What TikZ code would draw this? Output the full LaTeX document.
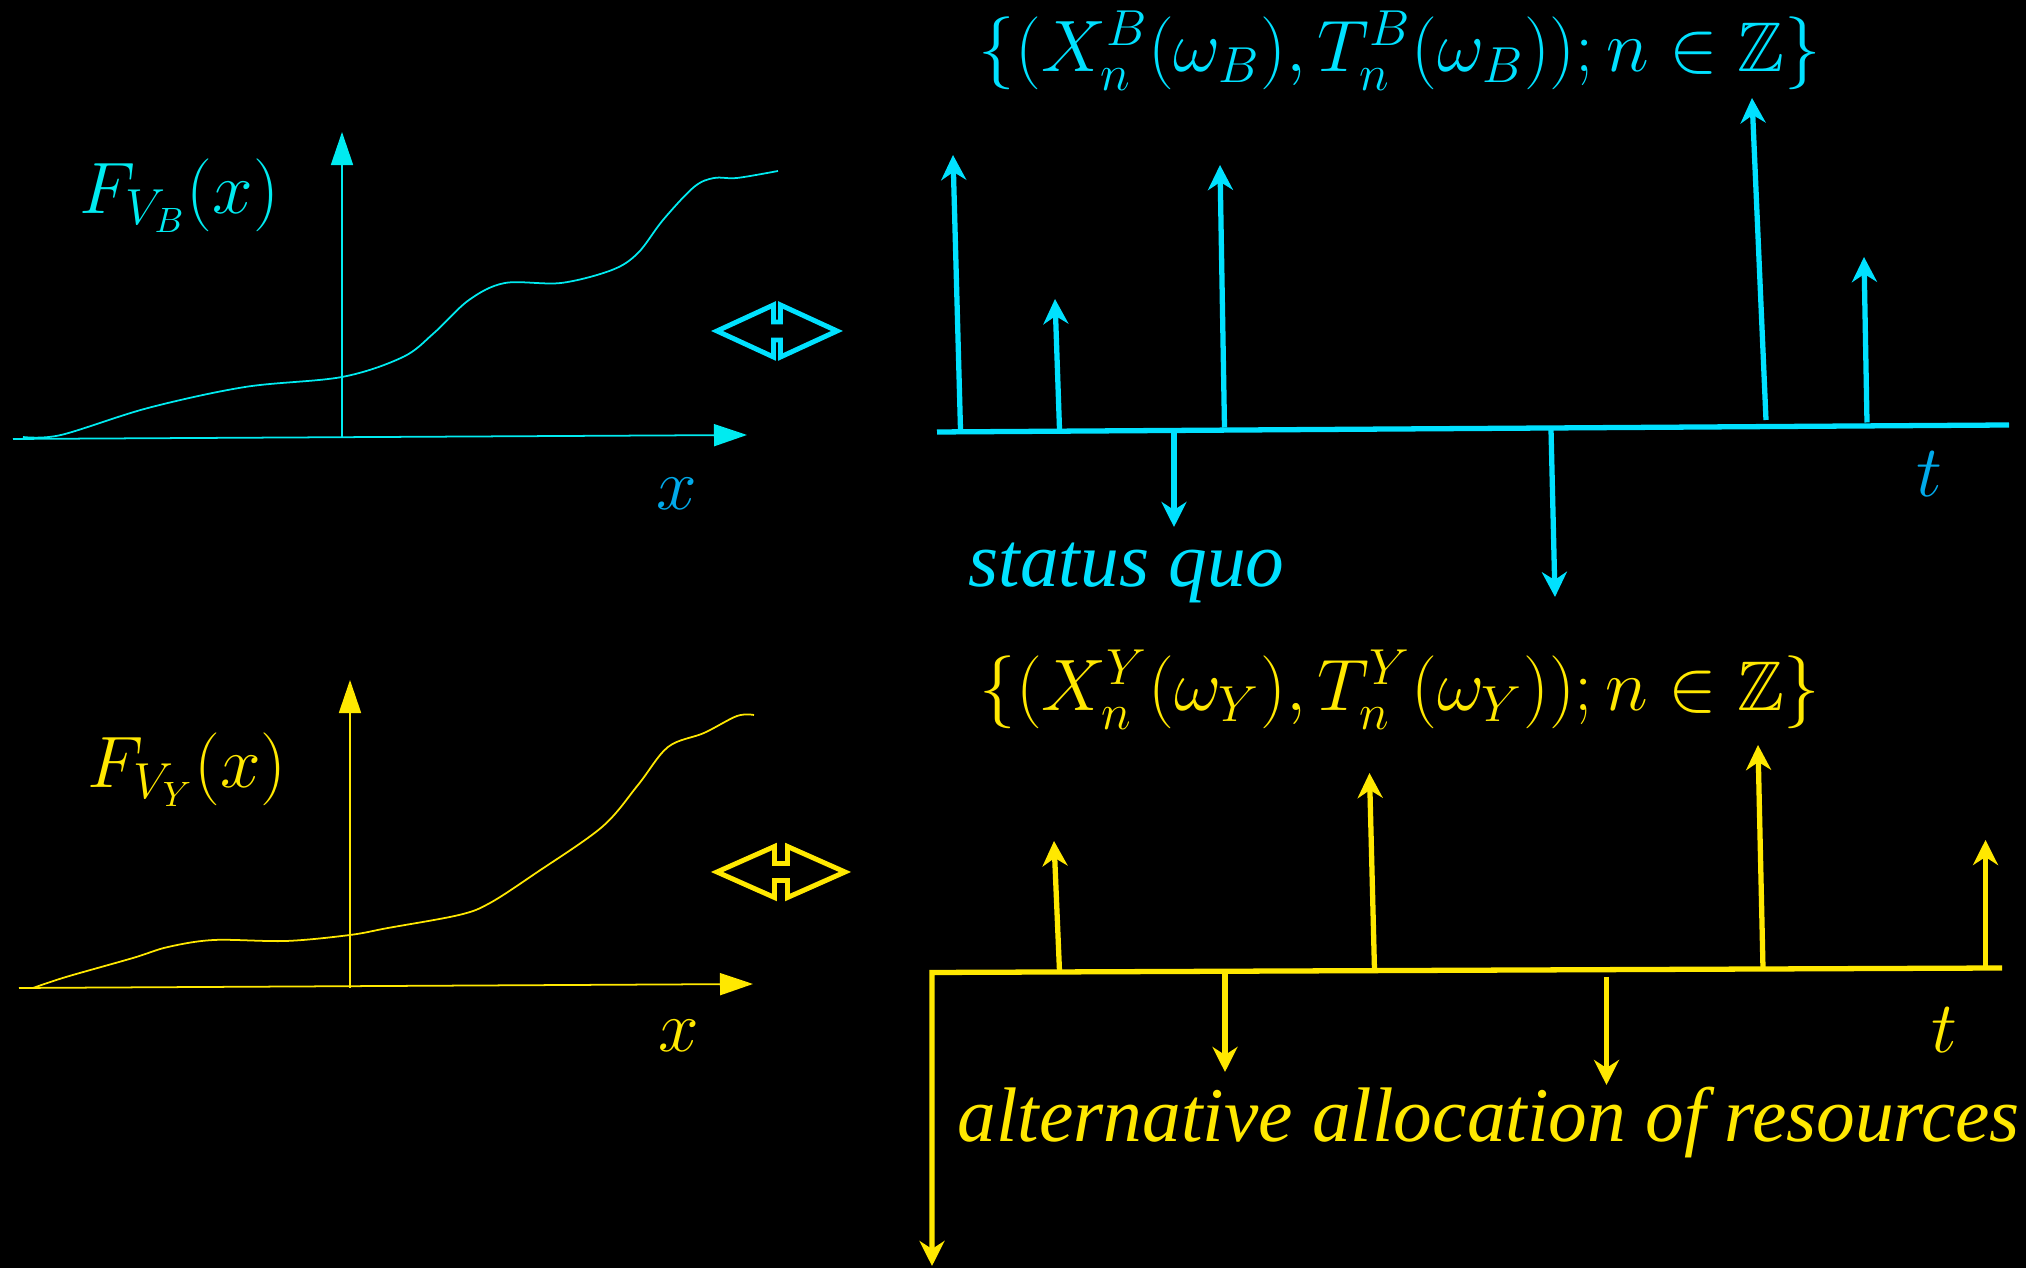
\documentclass[tikz,border=0pt]{standalone}
\usepackage{amsmath,amssymb}
\usepackage{fontspec}
\usepackage{xcolor}
\usepackage{tikz}
\usetikzlibrary{arrows.meta}
\newfontfamily\wordfont{Liberation Serif}[ItalicFont={Liberation Serif Italic}]
\definecolor{axiscyan}{RGB}{0,235,240}
\definecolor{runcyan}{RGB}{0,225,255}
\definecolor{labelblue}{RGB}{0,170,235}
\definecolor{runyellow}{RGB}{255,232,0}
\tikzset{
  cdfaxis/.style={-{Triangle[length=0.33cm,width=0.22cm]},line width=0.5pt},
  cdfcurve/.style={line width=0.5pt},
  timeline/.style={line width=1.5pt},
  pointarrow/.style={-{Stealth[length=0.25cm,width=0.25cm,inset=0.08cm]},line width=1.5pt},
  swapbox/.style={line width=1.4pt,line join=miter},
  mathlabel/.style={font=\fontsize{20}{24}\selectfont,inner sep=0pt},
  wordlabel/.style={font=\wordfont\itshape\fontsize{22}{26}\selectfont,inner sep=0pt}
}

\begin{document}
\begin{tikzpicture}[x=0.01cm,y=-0.01cm]
  \fill[black] (0,0) rectangle (2026,1268);
  \useasboundingbox (0,0) rectangle (2026,1268);

  % distribution of V_B
  \coordinate (xB0) at (13,439);
  \coordinate (xB1) at (747,435);
  \coordinate (yB0) at (342,438);
  \coordinate (yB1) at (342,132);
  \draw[cdfaxis,axiscyan] (xB0) -- (xB1);
  \draw[cdfaxis,axiscyan] (yB0) -- (yB1);
  \draw[cdfcurve,axiscyan] plot[smooth,tension=0.55] coordinates {(23,437) (61,435) (148,408) (245,387) (342,377)
    (403,357) (434,333) (469,300) (505,283) (561,283) (612,270) (638,253) (663,220) (694,187) (714,178) (737,178) (778,171)};
  \node[mathlabel,axiscyan,anchor=base west] (FB) at (79,214) {$F_{V_B}(x)$};
  \node[mathlabel,labelblue,anchor=base] (xB) at (677,510) {$x$};

  % distribution of V_Y
  \coordinate (xY0) at (19,988);
  \coordinate (xY1) at (753,984);
  \coordinate (yY0) at (350,988);
  \coordinate (yY1) at (350,680);
  \draw[cdfaxis,runyellow] (xY0) -- (xY1);
  \draw[cdfaxis,runyellow] (yY0) -- (yY1);
  \draw[cdfcurve,runyellow] plot[smooth,tension=0.55] coordinates {(33,988) (66,977) (133,958) (168,947) (214,940) (286,941)
    (350,935) (388,928) (459,915) (490,903) (536,873) (602,827) (638,785) (668,747) (704,733) (737,716) (754,715)};
  \node[mathlabel,runyellow,anchor=base west] (FY) at (87,788) {$F_{V_Y}(x)$};
  \node[mathlabel,runyellow,anchor=base] (xY) at (679,1052) {$x$};

  % equivalence signs
  \draw[swapbox,runcyan,shift={(777,331)}] (-60,0) -- (-3.5,-26) -- (-3.5,-9) -- (3.5,-9) -- (3.5,-26) -- (60,0)
    -- (3.5,26) -- (3.5,9) -- (-3.5,9) -- (-3.5,26) -- cycle;
  \draw[swapbox,runyellow,shift={(781,872)}] (-64,0) -- (-6.5,-25.5) -- (-6.5,-8.5) -- (6.5,-8.5) -- (6.5,-25.5) -- (64,0)
    -- (6.5,25.5) -- (6.5,8.5) -- (-6.5,8.5) -- (-6.5,25.5) -- cycle;

  % point process B
  \node[mathlabel,runcyan,anchor=base] (setB) at (1400,72) {$\{(X_n^B(\omega_B),T_n^B(\omega_B));n\in\mathbb{Z}\}$};
  \coordinate (tB0) at (937,432);
  \coordinate (tB1) at (2009,425);
  \draw[timeline,runcyan] (tB0) -- (tB1);
  \coordinate (b1) at (960.5,429.5);  \coordinate (b1top) at (953,155);
  \coordinate (b2) at (1059.5,429);   \coordinate (b2top) at (1055,299);
  \coordinate (b3) at (1224.5,427.5); \coordinate (b3top) at (1220,165);
  \coordinate (b4) at (1766,420);     \coordinate (b4top) at (1752,98);
  \coordinate (b5) at (1867,422.5);   \coordinate (b5top) at (1864,257);
  \draw[pointarrow,runcyan] (b1) -- (b1top);
  \draw[pointarrow,runcyan] (b2) -- (b2top);
  \draw[pointarrow,runcyan] (b3) -- (b3top);
  \draw[pointarrow,runcyan] (b4) -- (b4top);
  \draw[pointarrow,runcyan] (b5) -- (b5top);
  \coordinate (d1) at (1174,431);     \coordinate (d1end) at (1174,527);
  \coordinate (d2) at (1551,429);     \coordinate (d2end) at (1555,597);
  \draw[pointarrow,runcyan] (d1) -- (d1end);
  \draw[pointarrow,runcyan] (d2) -- (d2end);
  \node[mathlabel,labelblue,anchor=base] (tB) at (1929,497) {$t$};
  \node[wordlabel,runcyan,anchor=base west] (quo) at (968,587) {status quo};

  % point process Y
  \node[mathlabel,runyellow,anchor=base] (setY) at (1400,711) {$\{(X_n^Y(\omega_Y),T_n^Y(\omega_Y));n\in\mathbb{Z}\}$};
  \coordinate (tY0) at (932,972.5);
  \coordinate (tY1) at (2002,968);
  \coordinate (tYdown) at (932,1266);
  \draw[pointarrow,runyellow] (tY1) -- (tY0) -- (tYdown);
  \coordinate (y1) at (1059.5,971);   \coordinate (y1top) at (1054,841);
  \coordinate (y2) at (1374.5,970);   \coordinate (y2top) at (1369.5,773);
  \coordinate (y3) at (1763,968.5);   \coordinate (y3top) at (1758,745);
  \coordinate (y4) at (1985.5,968);   \coordinate (y4top) at (1985.5,840);
  \draw[pointarrow,runyellow] (y1) -- (y1top);
  \draw[pointarrow,runyellow] (y2) -- (y2top);
  \draw[pointarrow,runyellow] (y3) -- (y3top);
  \draw[pointarrow,runyellow] (y4) -- (y4top);
  \coordinate (e1) at (1225,972);     \coordinate (e1end) at (1225,1072);
  \coordinate (e2) at (1606.5,977);   \coordinate (e2end) at (1606.5,1085);
  \draw[pointarrow,runyellow] (e1) -- (e1end);
  \draw[pointarrow,runyellow] (e2) -- (e2end);
  \node[mathlabel,runyellow,anchor=base] (tY) at (1944,1053) {$t$};
  \node[wordlabel,runyellow,anchor=base west] (alloc) at (957,1142) {alternative allocation of resources};
\end{tikzpicture}
\end{document}
